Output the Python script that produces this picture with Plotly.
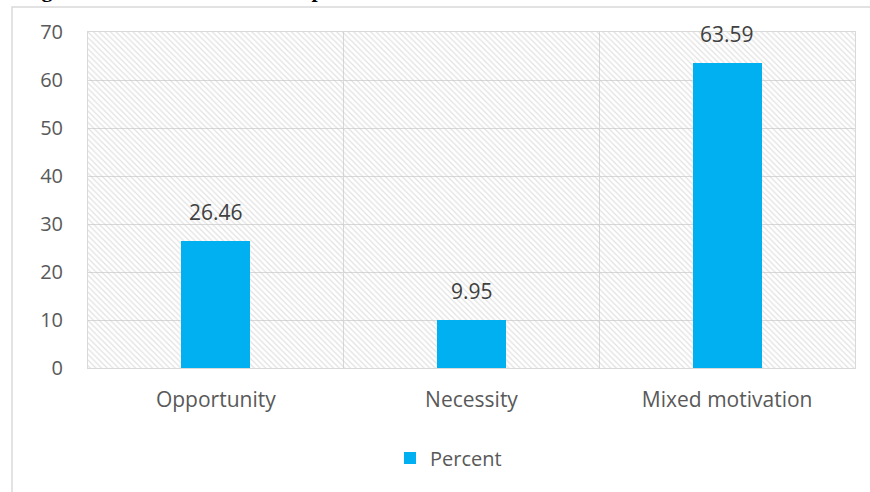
import plotly.graph_objects as go

categories = ["Opportunity", "Necessity", "Mixed motivation"]
percent = [26.46, 9.95, 63.59]
y_ticks = [0, 10, 20, 30, 40, 50, 60, 70]
y_max = 70
series_name = "Percent"
title_text = "Figure 4.8: Motivation of entrepreneurs"

BAR = "#00B0F0"
GRID = "#d9d9d9"
TXT = "#595959"
FONT = "Open Sans"

xs = list(range(len(categories)))

fig = go.Figure()
# hatched plot-area background
fig.add_trace(go.Bar(
    x=xs, y=[y_max] * len(xs), width=1, showlegend=False, hoverinfo="skip",
    marker=dict(color="rgba(0,0,0,0)", line=dict(width=0),
                pattern=dict(shape="\\", fgcolor="#c4c4c4", bgcolor="rgba(0,0,0,0)",
                             size=4, solidity=0.3)),
))
fig.add_trace(go.Bar(
    x=xs, y=percent, width=0.27, name=series_name,
    marker=dict(color=BAR, line=dict(width=0)),
))

for x, v in zip(xs, percent):
    fig.add_annotation(x=x, y=v, text=f"{v:.2f}", showarrow=False, yanchor="bottom",
                       yshift=13, font=dict(family=FONT, size=21, color="#404040"))

fig.add_annotation(xref="paper", yref="paper", x=-0.0887, y=1.084, xanchor="left",
                   yanchor="bottom", text=f"<b>{title_text}</b>", showarrow=False,
                   font=dict(family="Liberation Serif", size=22, color="black"))

fig.add_shape(type="rect", xref="paper", yref="paper", x0=-0.0991, x1=1.2,
              y0=-0.5, y1=1.0744, line=dict(color=GRID, width=1.5), layer="below")

fig.update_layout(
    width=870, height=492,
    margin=dict(l=88, r=15, t=32, b=124),
    paper_bgcolor="white", plot_bgcolor="white",
    barmode="overlay", bargap=0,
    font=dict(family=FONT, size=20, color=TXT),
    legend=dict(orientation="h", x=0.47, xanchor="center", y=-0.21, yanchor="top",
                font=dict(family=FONT, size=20, color=TXT), itemwidth=30),
    showlegend=True,
)
fig.update_xaxes(range=[-0.5, len(xs) - 0.5], tickvals=xs, ticktext=categories,
                 showgrid=False, showline=True, mirror=True, linecolor=GRID, linewidth=1,
                 ticks="", ticklabelstandoff=13, zeroline=False,
                 tickfont=dict(size=21),
                 minor=dict(tickvals=[0.5, 1.5], showgrid=True, gridcolor=GRID, gridwidth=1))
fig.update_yaxes(range=[0, y_max], tickvals=y_ticks, showgrid=True, gridcolor=GRID,
                 gridwidth=1, showline=True, mirror=True, linecolor=GRID, ticks="",
                 ticklabelstandoff=20, zeroline=False)

fig.write_html("out.html", config={"displayModeBar": False},
               post_script="document.body.style.margin='0';document.body.style.padding='0';")
